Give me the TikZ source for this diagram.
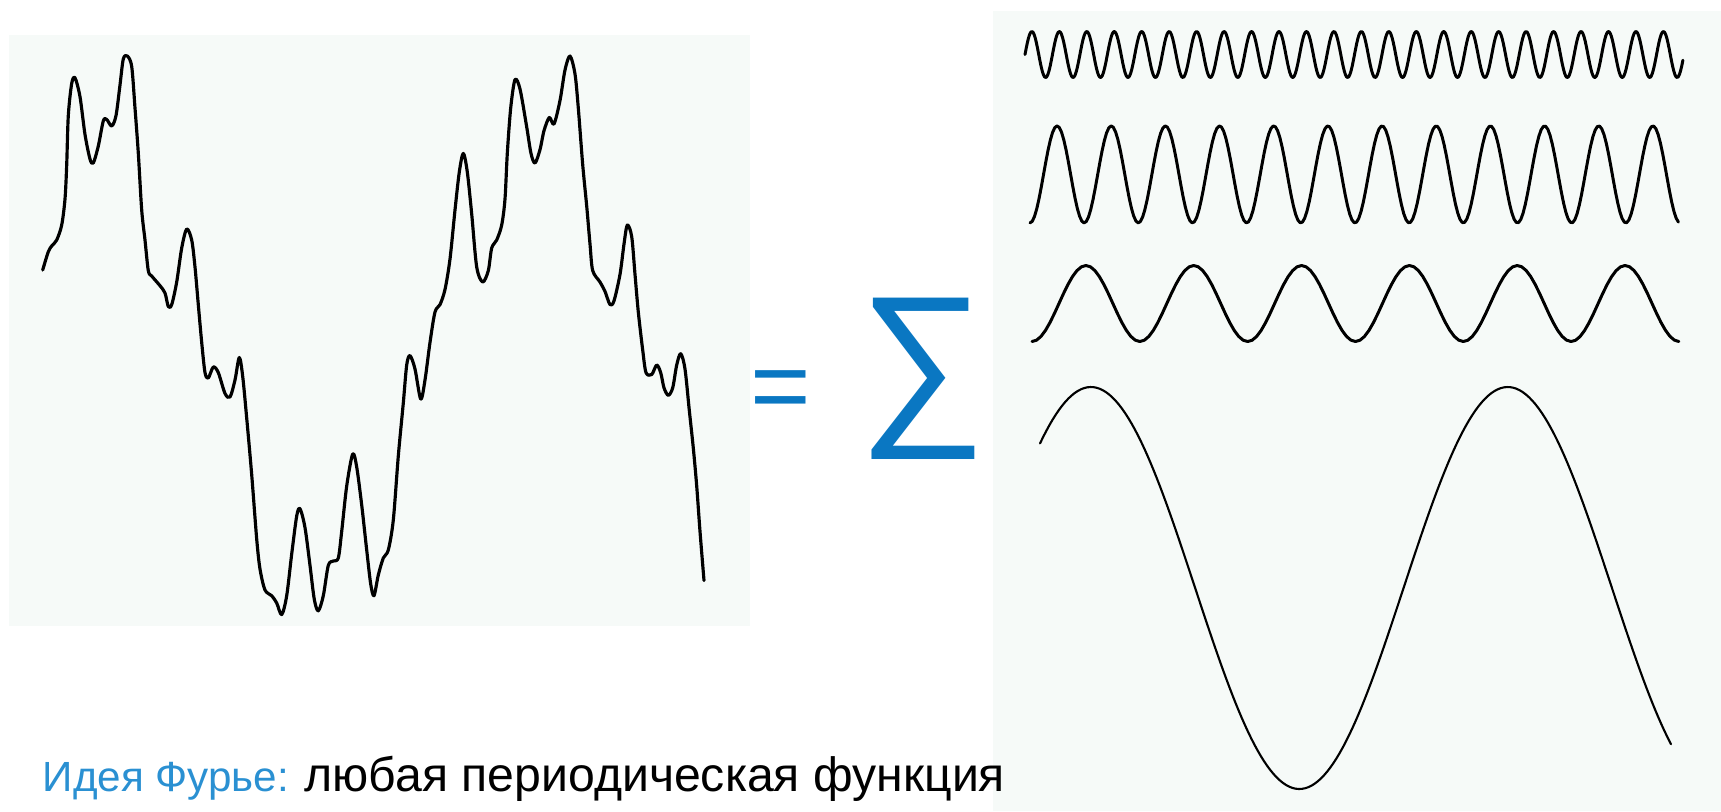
\documentclass[tikz,border=0pt]{standalone}
\usepackage{fontspec}
\setmainfont{Liberation Sans}
\usepackage{tikz}
\usetikzlibrary{positioning}
\definecolor{sumc}{HTML}{0A77C2}
\definecolor{ideac}{HTML}{2A90D2}
\definecolor{panelc}{RGB}{246,250,248}

\begin{document}
\begin{tikzpicture}[x=0.01cm,y=-0.01cm,wave/.style={line width=0.9pt,line join=round,line cap=round}]
    \useasboundingbox (0,0) rectangle (1721,811);
    \fill[panelc] (9,35) rectangle (750,626);
    \fill[panelc] (993,11) rectangle (1721,811);
    % the periodic function
    \draw[wave] plot[smooth,tension=0.5] coordinates {(42.7,270) (48.3,251.7) (51.7,246) (56.7,240) (61.7,225) (65,199) (66.7,165) (68.3,115.6) (71.7,83.5) (75,77.8) (80,96.7) (85,134.5) (90,159) (93.3,163) (98.3,146) (103.3,121) (106.7,119.4) (111.7,126) (116,115.6) (120,85) (123.3,59) (127.3,56) (131.7,66.5) (135,108) (138.3,153) (141.7,210) (145,240) (148.3,270.6) (151.7,276) (160,285.7) (165,293) (168.3,306.5) (171.7,304.6) (176.7,282) (181.7,248) (186.7,229) (191.7,240) (195,267) (198.3,304.6) (201.7,342.4) (205,372.6) (208.3,378) (213.3,367) (218.3,372.6) (225,393.4) (230,397) (235,380) (239.3,357.5) (242.7,376.4) (246.7,418) (251.7,474.7) (256.7,539) (260,569) (265,590) (271.7,595.7) (276.7,603) (281.7,614.6) (286.7,595.7) (291.7,554) (296.7,516) (300,508.7) (305,527.6) (310,565.4) (314.3,599.4) (318.3,610.8) (323.3,595.7) (328.3,565.4) (333.3,561) (338.3,558) (341.7,531.4) (346.7,486) (352.7,454) (356.7,467) (361.7,505) (366.7,550) (370.7,584) (374,595.7) (378.3,575) (383.3,558) (388.3,550) (393.3,520) (398.3,456) (403.3,403) (406.7,365) (410,355.6) (415,369) (420.7,399) (425,380) (430,342.4) (435,312) (440,304.6) (445,289.5) (450,259) (455,210) (459.3,172) (463.3,153.4) (467.3,172) (471.7,214) (476.7,267) (482.7,282) (488.3,270.6) (491.7,248) (496.7,240) (501.7,225) (505,199) (507.3,153.4) (510.7,108) (515,79.7) (520,89) (526.7,127) (531,153.4) (535,163) (540,149.6) (544,130.7) (549.3,117.5) (554,124) (560,100.5) (565,70) (570,56) (575,74) (578.3,108) (582.7,164.7) (586.7,206) (590,244) (592.7,270.6) (600,282) (605,291.4) (610,304.6) (614,300.8) (620,274.4) (624,244) (627.3,225) (631.7,236.6) (635,274.4) (638.3,312) (642.7,350) (646,372.6) (651.7,374.5) (656.7,365) (660.7,372.6) (664,387.8) (668.3,395.3) (672.7,387.8) (676.7,365) (680.7,353.7) (685,369) (689.3,410.4) (693.3,448) (696.7,486) (700,531.4) (704,580.5)};
    % harmonics
    \foreach \n/\yc/\amp/\xa/\xb/\ph in {24/54.5/23/1025/1684/90, 12/174.4/48.5/1030/1680/180, 6/303.5/38/1032/1679/180} {
      \draw[wave,line width=0.85pt] plot[domain=0:1,samples=\n*24+1,variable=\t] ({\xa+(\xb-\xa)*\t},{\yc-\amp*cos(\n*360*\t-\ph)});
    }
    \draw[wave,line width=0.6pt] plot[domain=-44:501,samples=201,variable=\a] ({1040+(\a+44)*1.1578},{588-201*cos(\a)});
    \node[text=sumc,font=\fontsize{29.5}{30}\selectfont,inner sep=0] (eqsign) at (781,396) {=};
    \node[text=sumc,font=\fontsize{51}{51}\selectfont,inner sep=0] (sumsign) at (922.7,379) {∑};
    \node[anchor=base west,inner sep=0,font=\fontsize{12}{14}\selectfont] (idea) at (42,791) {\textcolor{ideac}{Идея Фурье:} {\fontsize{13.7}{16}\selectfont любая периодическая функция}};
\end{tikzpicture}
\end{document}
